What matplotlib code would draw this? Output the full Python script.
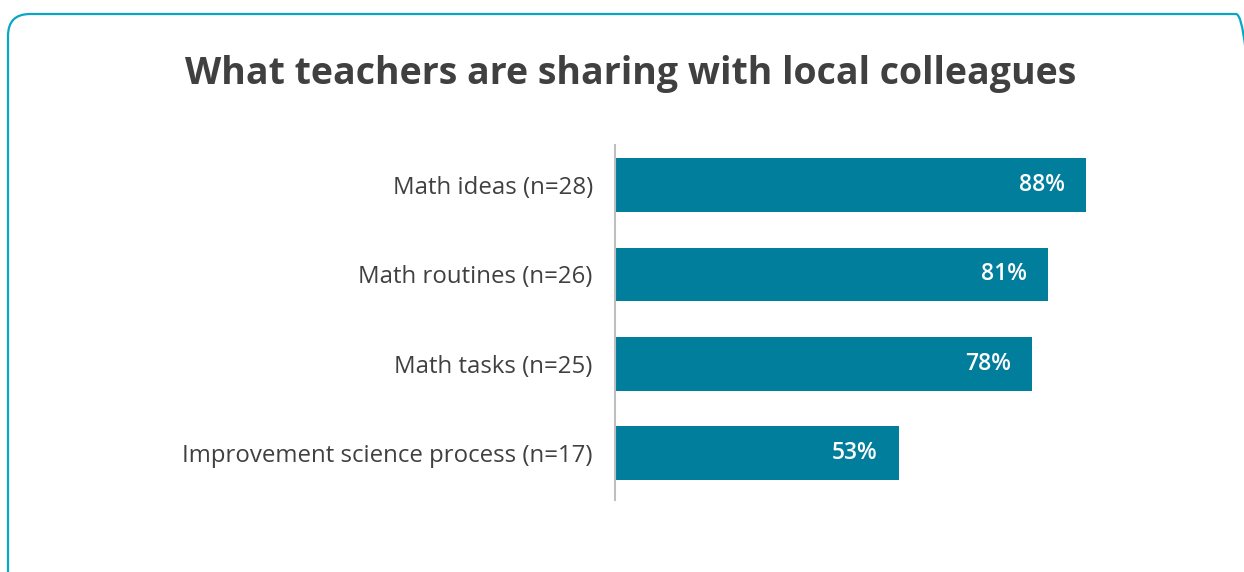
import matplotlib.pyplot as plt
from matplotlib.patches import FancyBboxPatch
from matplotlib.transforms import IdentityTransform

categories = [
    "Math ideas (n=28)",
    "Math routines (n=26)",
    "Math tasks (n=25)",
    "Improvement science process (n=17)",
]
values = [88, 81, 78, 53]

BAR = "#027E9D"
TEXT = "#404040"
BORDER = "#0AA6C6"

plt.rcParams["font.family"] = ["Open Sans", "DejaVu Sans"]

W, H, DPI = 1244, 572, 100
fig = plt.figure(figsize=(W / DPI, H / DPI), dpi=DPI)

# rounded frame, clipped at the right and bottom edges like the source
frame = FancyBboxPatch(
    (8, -40), 1250, H - 14 + 40,
    boxstyle="round,pad=0,rounding_size=22",
    transform=IdentityTransform(),
    facecolor="none", edgecolor=BORDER, linewidth=1.6,
)
fig.add_artist(frame)

fig.text(631 / W, 1 - 74 / H, "What teachers are sharing with local colleagues",
         ha="center", va="center", fontsize=27, fontweight="bold", color=TEXT)

# axes placed in pixel terms: x 615..1150 (0..100%), y 145..500
ax = fig.add_axes([615 / W, 1 - 500 / H, (1150 - 615) / W, (500 - 145) / H])
y = list(range(len(categories)))
ax.barh(y, values, height=0.6, color=BAR)
ax.set_xlim(0, 100)
ax.set_ylim(3.525, -0.45)

for yi, v in zip(y, values):
    ax.text(v - 3.9, yi, f"{v}%", ha="right", va="center",
            color="white", fontsize=16.5, fontweight="semibold")

ax.set_yticks(y)
ax.set_yticklabels(categories, fontsize=17.3, color=TEXT)
ax.tick_params(axis="y", length=0, pad=16)
ax.set_xticks([])
for s in ["top", "right", "bottom"]:
    ax.spines[s].set_visible(False)
ax.spines["left"].set_color("#BFBFBF")
ax.spines["left"].set_linewidth(1.5)

fig.savefig("out.png", dpi=DPI)
